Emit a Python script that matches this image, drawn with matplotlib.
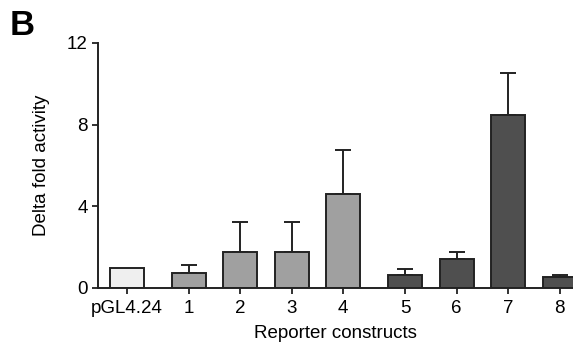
import matplotlib.pyplot as plt
import numpy as np

plt.rcParams['font.family'] = ['Liberation Sans', 'DejaVu Sans']

# data
labels = ['pGL4.24', '1', '2', '3', '4', '5', '6', '7', '8']
values = [1.0, 0.75, 1.76, 1.76, 4.6, 0.64, 1.44, 8.47, 0.54]
err_up = [0.0, 0.38, 1.49, 1.49, 2.18, 0.29, 0.31, 2.07, 0.10]
groups = [0, 1, 1, 1, 1, 2, 2, 2, 2]

group_colors = ['#efefef', '#a0a0a0', '#4f4f4f']
# extra gap between groups
pos = np.arange(len(labels)) + 0.2 * np.array(groups)
colors = [group_colors[g] for g in groups]

fig = plt.figure(figsize=(5.73, 3.49), dpi=100)
ax = fig.add_axes([0.171, 0.175, 0.829, 0.702])

ax.bar(pos, values, width=0.66, color=colors, edgecolor='#222222', linewidth=1.4, zorder=2)
yerr = np.vstack([np.zeros(len(err_up)), err_up])
mask = np.array(err_up) > 0
ax.errorbar(pos[mask], np.array(values)[mask], yerr=yerr[:, mask], fmt='none',
            ecolor='#222222', elinewidth=1.4, capsize=6, capthick=1.4, zorder=1)

ax.set_xlim(-0.56, 8.66)
ax.set_ylim(0, 12)
ax.set_yticks([0, 4, 8, 12])
ax.set_xticks(pos)
ax.set_xticklabels(labels)
ax.tick_params(direction='out', length=4.5, width=1.3, labelsize=13.5, color='#222222', pad=3)
ax.tick_params(axis='x', pad=4)
for s in ['top', 'right']:
    ax.spines[s].set_visible(False)
for s in ['left', 'bottom']:
    ax.spines[s].set_linewidth(1.4)
    ax.spines[s].set_color('#222222')

ax.set_ylabel('Delta fold activity', fontsize=13.5, labelpad=12)
ax.set_xlabel('Reporter constructs', fontsize=13.5, labelpad=6)
fig.text(0.016, 0.975, 'B', fontsize=25, fontweight='bold', va='top', ha='left')

fig.savefig('out.png', dpi=100)
